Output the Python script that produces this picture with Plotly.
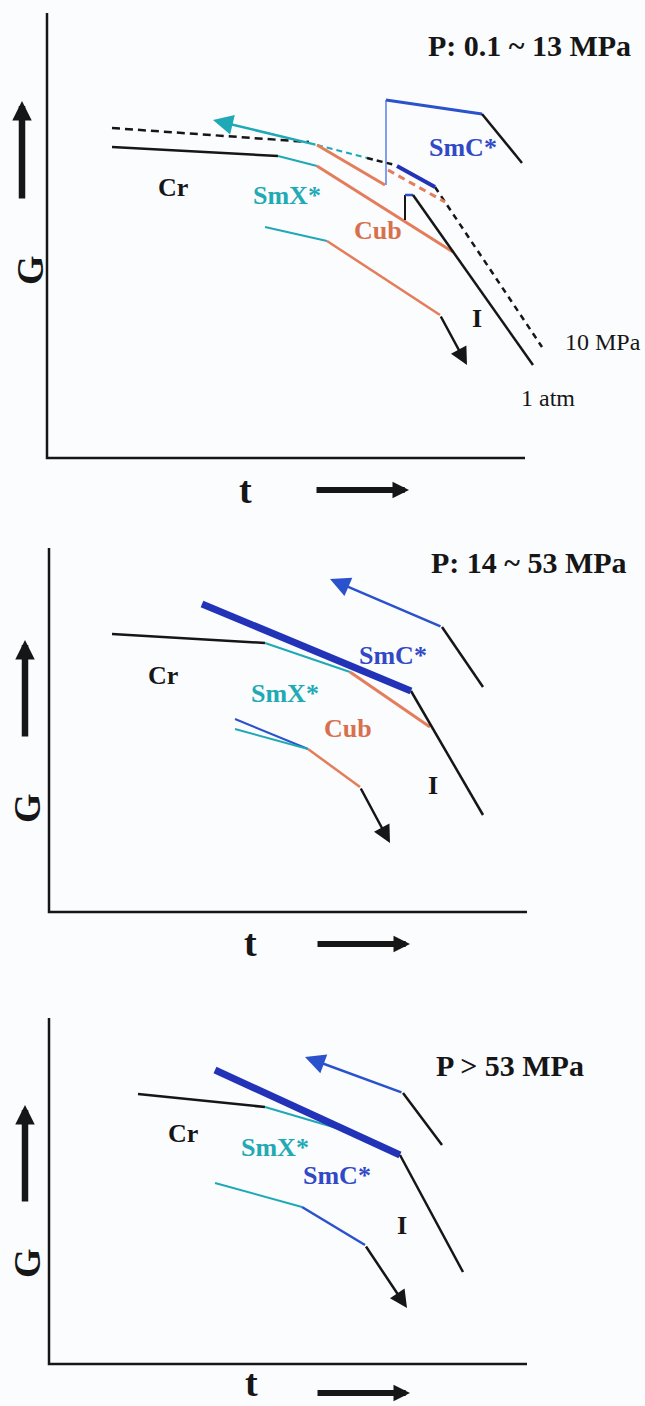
import plotly.graph_objects as go

W, H = 645, 1406

# ---------------- data (t = time axis, G = free energy), one unit = 1 px ----------------
# Panel 1 : P 0.1 ~ 13 MPa
p1_cr_t, p1_cr_g = [65, 231], [311, 302]
p1_smx_t, p1_smx_g = [231, 270], [302, 292]
p1_cub_t, p1_cub_g = [270, 406], [292, 206]
p1_iso_t, p1_iso_g = [366, 486], [263, 93]
p1_tick_t, p1_tick_g = [358, 358], [238, 263]
p1_tickb_t, p1_tickb_g = [358, 366], [263, 263]
p1_cr10_t, p1_cr10_g = [65, 262], [330, 316]
p1_smx10_t, p1_smx10_g = [270, 320], [313, 300]
p1_mid10_t, p1_mid10_g = [320, 348], [300, 293]
p1_smc10_t, p1_smc10_g = [350, 388], [292, 271]
p1_iso10_t, p1_iso10_g = [388, 495], [271, 111]
p1_cub10_t, p1_cub10_g = [341, 398], [288, 256]
p1_hcub_t, p1_hcub_g = [270, 338], [313, 273]
p1_jump_t, p1_jump_g = [339, 339], [273, 358]
p1_smct_t, p1_smct_g = [339, 435], [358, 344]
p1_isot_t, p1_isot_g = [435, 475], [344, 295]
p1_arrow_t, p1_arrow_g = [270, 166], [313, 338]          # tail -> tip
p1_lsmx_t, p1_lsmx_g = [218, 280], [231, 217]
p1_lcub_t, p1_lcub_g = [280, 393], [217, 143]
p1_larrow_t, p1_larrow_g = [393, 420], [143, 93]

# Panel 2 : P 14 ~ 53 MPa
p2_cr_t, p2_cr_g = [63, 216], [278, 269]
p2_smx_t, p2_smx_g = [216, 301], [269, 240]
p2_smc_t, p2_smc_g = [153, 362], [308, 221]
p2_cub_t, p2_cub_g = [301, 381], [240, 185]
p2_iso_t, p2_iso_g = [362, 434], [221, 97]
p2_arrow_t, p2_arrow_g = [393, 281], [285, 333]
p2_isot_t, p2_isot_g = [393, 434], [285, 225]
p2_lsmc_t, p2_lsmc_g = [186, 259], [193, 163]
p2_lsmx_t, p2_lsmx_g = [186, 259], [183, 163]
p2_lcub_t, p2_lcub_g = [259, 311], [163, 125]
p2_larrow_t, p2_larrow_g = [311, 341], [125, 69]

# Panel 3 : P > 53 MPa
p3_cr_t, p3_cr_g = [89, 216], [270, 257]
p3_smx_t, p3_smx_g = [216, 301], [257, 232]
p3_smc_t, p3_smc_g = [166, 351], [294, 209]
p3_iso_t, p3_iso_g = [351, 414], [209, 92]
p3_arrow_t, p3_arrow_g = [354, 256], [271, 307]
p3_isot_t, p3_isot_g = [354, 393], [271, 219]
p3_lsmx_t, p3_lsmx_g = [166, 253], [181, 157]
p3_lsmc_t, p3_lsmc_g = [253, 316], [157, 119]
p3_larrow_t, p3_larrow_g = [316, 358], [119, 56]

# labels: (text, t, G)
p1_labels = [("Cr", 126, 271), ("SmX*", 240, 263), ("Cub", 331, 228), ("SmC*", 416, 311), ("I", 430, 140)]
p2_labels = [("Cr", 114, 237), ("SmX*", 236, 219), ("Cub", 299, 184), ("SmC*", 344, 257), ("I", 384, 127)]
p3_labels = [("Cr", 134, 231), ("SmX*", 226, 217), ("SmC*", 288, 189), ("I", 353, 139)]
titles = ["P: 0.1 ~ 13 MPa", "P: 14 ~ 53 MPa", "P > 53 MPa"]

# ---------------- styling ----------------
BLACK = "#161616"
TEAL = "#1fa8b6"
ORANGE = "#e37d5a"
BLUE = "#2a52cc"
BLUE_THICK = "#2233b8"
LBL = {"Cr": BLACK, "SmX*": "#1faab4", "Cub": "#d8704e", "SmC*": "#3149c6", "I": BLACK}
SERIF = "Liberation Serif"
BG = "#fbfcfe"

# panel geometry (pixels): axis origin and vertical band
origins = [(47, 458), (49, 912), (49, 1364)]
bands = [(0, 505), (505, 960), (960, 1406)]
frame = [(478, 445), (478, 364), (478, 346)]

fig = go.Figure()
layout = dict(width=W, height=H, margin=dict(l=0, r=0, t=0, b=0),
              paper_bgcolor=BG, plot_bgcolor=BG, showlegend=False,
              hovermode=False)
shapes, annotations = [], []

for i, ((ox, oy), (bt, bb)) in enumerate(zip(origins, bands)):
    s = "" if i == 0 else str(i + 1)
    layout["xaxis" + s] = dict(domain=[0, 1], range=[-ox, W - ox], visible=False,
                               anchor="y" + s, fixedrange=True)
    layout["yaxis" + s] = dict(domain=[1 - bb / H, 1 - bt / H], range=[oy - bb, oy - bt],
                               visible=False, anchor="x" + s, fixedrange=True)


def ref(p):
    s = "" if p == 0 else str(p + 1)
    return "x" + s, "y" + s


def seg(p, t, g, color, width, dash=None):
    xr, yr = ref(p)
    fig.add_trace(go.Scatter(x=t, y=g, mode="lines", xaxis=xr, yaxis=yr,
                             line=dict(color=color, width=width, dash=dash),
                             hoverinfo="skip"))


def arrow(p, t, g, color, width, size):
    xr, yr = ref(p)
    annotations.append(dict(x=t[1], y=g[1], ax=t[0], ay=g[0], xref=xr, yref=yr,
                            axref=xr, ayref=yr, text="", showarrow=True,
                            arrowhead=2, arrowwidth=width, arrowsize=size,
                            arrowcolor=color, standoff=0, startstandoff=0))


def label(p, text, t, g, color, size, bold=True, xanchor="center", angle=0):
    xr, yr = ref(p)
    annotations.append(dict(x=t, y=g, xref=xr, yref=yr, showarrow=False,
                            text=("<b>%s</b>" % text) if bold else text,
                            textangle=angle, xanchor=xanchor, yanchor="middle",
                            borderpad=0,
                            font=dict(family=SERIF, size=size, color=color)))


# ---- panel 1 ----
seg(0, p1_cr10_t, p1_cr10_g, BLACK, 2.5, "8px,5px")
seg(0, p1_smx10_t, p1_smx10_g, TEAL, 2, "6px,4px")
seg(0, p1_mid10_t, p1_mid10_g, BLACK, 2.5, "6px,4px")
seg(0, p1_iso10_t, p1_iso10_g, BLACK, 2.5, "6px,5px")
seg(0, p1_cub10_t, p1_cub10_g, ORANGE, 3, "7px,5px")
seg(0, p1_smc10_t, p1_smc10_g, BLUE_THICK, 4)
seg(0, p1_cr_t, p1_cr_g, BLACK, 2.5)
seg(0, p1_smx_t, p1_smx_g, TEAL, 2)
seg(0, p1_cub_t, p1_cub_g, ORANGE, 3)
seg(0, p1_tick_t, p1_tick_g, BLACK, 2)
seg(0, p1_tickb_t, p1_tickb_g, BLUE, 2.5)
seg(0, p1_iso_t, p1_iso_g, BLACK, 2.5)
seg(0, p1_hcub_t, p1_hcub_g, ORANGE, 3)
seg(0, p1_jump_t, p1_jump_g, "#5b7fe6", 1.5)
seg(0, p1_smct_t, p1_smct_g, BLUE, 3)
seg(0, p1_isot_t, p1_isot_g, BLACK, 2.5)
seg(0, p1_lsmx_t, p1_lsmx_g, TEAL, 2)
seg(0, p1_lcub_t, p1_lcub_g, ORANGE, 2.5)
arrow(0, p1_arrow_t, p1_arrow_g, TEAL, 2.5, 1.6)
arrow(0, p1_larrow_t, p1_larrow_g, BLACK, 2.5, 1.4)
for txt, t, g in p1_labels:
    label(0, txt, t, g, LBL[txt], 26)
label(0, "10 MPa", 517, 116, BLACK, 24, bold=False, xanchor="left")
label(0, "1 atm", 473, 60, BLACK, 24, bold=False, xanchor="left")

# ---- panel 2 ----
seg(1, p2_cr_t, p2_cr_g, BLACK, 2.5)
seg(1, p2_smx_t, p2_smx_g, TEAL, 2)
seg(1, p2_cub_t, p2_cub_g, ORANGE, 3)
seg(1, p2_iso_t, p2_iso_g, BLACK, 2.5)
seg(1, p2_smc_t, p2_smc_g, BLUE_THICK, 7)
seg(1, p2_isot_t, p2_isot_g, BLACK, 2.5)
seg(1, p2_lsmc_t, p2_lsmc_g, BLUE, 2)
seg(1, p2_lsmx_t, p2_lsmx_g, TEAL, 2)
seg(1, p2_lcub_t, p2_lcub_g, ORANGE, 2.5)
arrow(1, p2_arrow_t, p2_arrow_g, BLUE, 2.5, 1.6)
arrow(1, p2_larrow_t, p2_larrow_g, BLACK, 2.5, 1.4)
for txt, t, g in p2_labels:
    label(1, txt, t, g, LBL[txt], 26)

# ---- panel 3 ----
seg(2, p3_cr_t, p3_cr_g, BLACK, 2.5)
seg(2, p3_smx_t, p3_smx_g, TEAL, 2)
seg(2, p3_smc_t, p3_smc_g, BLUE_THICK, 7)
seg(2, p3_iso_t, p3_iso_g, BLACK, 2.5)
seg(2, p3_isot_t, p3_isot_g, BLACK, 2.5)
seg(2, p3_lsmx_t, p3_lsmx_g, TEAL, 2)
seg(2, p3_lsmc_t, p3_lsmc_g, BLUE, 2.5)
arrow(2, p3_arrow_t, p3_arrow_g, BLUE, 2.5, 1.6)
arrow(2, p3_larrow_t, p3_larrow_g, BLACK, 2.5, 1.4)
for txt, t, g in p3_labels:
    label(2, txt, t, g, LBL[txt], 26)

# ---- frames, axis titles and direction arrows ----
title_pos = [(585, 413, "right"), (579, 350, "right"), (461, 299, "center")]
for p in range(3):
    xr, yr = ref(p)
    tend, gtop = frame[p]
    shapes.append(dict(type="path", xref=xr, yref=yr,
                       path="M0,%d L0,0 L%d,0" % (gtop, tend),
                       line=dict(color=BLACK, width=2.5)))
    tt, tg, anc = title_pos[p]
    label(p, titles[p], tt, tg, BLACK, 30, xanchor=anc)

g_label = [(-17, 188), (-22, 104), (-22, 101)]
up_arrow = [([-25, -25], [258, 357]), ([-24, -24], [174, 272]), ([-24, -24], [161, 259])]
t_label = [(198, -32), (201, -31), (202, -19)]
right_arrow = [([268, 362], [-32, -32]), ([267, 361], [-32, -32]), ([267, 361], [-29, -29])]
for p in range(3):
    label(p, "G", g_label[p][0], g_label[p][1], BLACK, 38, angle=-90)
    arrow(p, up_arrow[p][0], up_arrow[p][1], BLACK, 6.5, 0.6)
    label(p, "t", t_label[p][0], t_label[p][1], BLACK, 38)
    arrow(p, right_arrow[p][0], right_arrow[p][1], BLACK, 6, 0.55)

layout["shapes"] = shapes
layout["annotations"] = annotations
fig.update_layout(**layout)
fig.write_html("out.html")
